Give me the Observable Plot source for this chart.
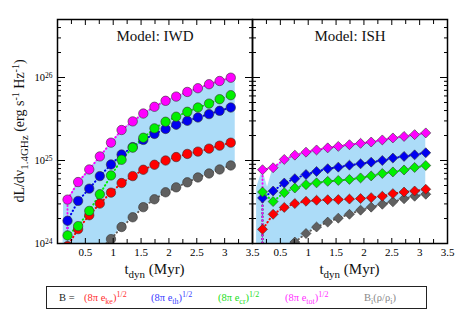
<!DOCTYPE html>
<html><head><meta charset="utf-8">
<script src="https://cdn.jsdelivr.net/npm/d3@7"></script>
<script src="https://cdn.jsdelivr.net/npm/@observablehq/plot@0.6"></script>
<style>
body{margin:0;background:#fff;}
#chart{position:absolute;left:0;top:0;width:464px;height:280px;}
#legend{position:absolute;left:46px;top:286px;width:379px;height:21px;border:1.4px solid #222;font-family:"Liberation Serif",serif;font-size:10.5px;line-height:12px;}
#legend span{position:absolute;top:5px;white-space:nowrap;}
#legend sub,#legend sup{font-size:8px;line-height:0;}
</style></head>
<body>
<div id="chart"></div>
<div id="legend">
  <span style="left:12px;color:#222">B =</span>
  <span style="left:37px;color:#ff3030">(8π e<sub>ke</sub>)<sup>1/2</sup></span>
  <span style="left:104px;color:#4040ff">(8π e<sub>th</sub>)<sup>1/2</sup></span>
  <span style="left:171px;color:#22dd22">(8π e<sub>cr</sub>)<sup>1/2</sup></span>
  <span style="left:238px;color:#ff30ff">(8π e<sub>tot</sub>)<sup>1/2</sup></span>
  <span style="left:317px;color:#888">B<sub>i</sub>(ρ/ρ<sub>i</sub>)</span>
</div>
<script>
// ---- data ----
const models = ["IWD", "ISH"];
const tdyn = [0.18,0.37,0.57,0.76,0.96,1.15,1.35,1.54,1.74,1.94,2.13,2.33,2.52,2.72,2.91,3.11];
const lineStartT = 0.17, lineStartV = 1e22;

const seriesKeys = ["Bi", "ke", "th", "cr", "tot"];
const seriesColors = {Bi: "#606060", ke: "#ff0000", th: "#0000f0", cr: "#00f000", tot: "#ff00ff"};

// Model IWD
const iwdTot = [3.38e24,5.50e24,7.80e24,1.12e25,1.64e25,2.33e25,2.96e25,3.68e25,4.44e25,5.24e25,5.89e25,6.70e25,7.43e25,8.30e25,9.08e25,9.95e25];
const iwdTh  = [1.88e24,3.26e24,4.58e24,6.49e24,8.95e24,1.18e25,1.45e25,1.77e25,2.09e25,2.40e25,2.70e25,3.01e25,3.30e25,3.62e25,3.97e25,4.35e25];
const iwdCr  = [1.25e24,1.62e24,2.47e24,3.92e24,6.61e24,1.02e25,1.43e25,1.88e25,2.44e25,2.93e25,3.37e25,3.86e25,4.35e25,4.85e25,5.48e25,6.12e25];
const iwdKe  = [9.3e23,1.49e24,2.19e24,3.03e24,4.10e24,5.35e24,6.49e24,7.74e24,8.89e24,1.00e25,1.10e25,1.20e25,1.28e25,1.39e25,1.51e25,1.64e25];
const iwdBi  = [3.0e23,4.5e23,6.5e23,8.5e23,1.13e24,1.58e24,2.07e24,2.74e24,3.41e24,4.14e24,4.75e24,5.46e24,6.25e24,6.98e24,7.80e24,8.71e24];

// Model ISH
const ishTot = [7.74e24,8.18e24,1.03e25,1.16e25,1.26e25,1.34e25,1.42e25,1.48e25,1.55e25,1.61e25,1.67e25,1.77e25,1.87e25,1.95e25,2.05e25,2.15e25];
const ishTh  = [3.54e24,4.29e24,5.35e24,6.04e24,6.79e24,7.38e24,7.96e24,8.32e24,8.79e24,9.12e24,9.55e24,1.00e25,1.07e25,1.12e25,1.17e25,1.24e25];
const ishCr  = [4.17e24,3.20e24,4.10e24,4.66e24,5.12e24,5.38e24,5.61e24,5.75e24,5.92e24,6.17e24,6.52e24,6.98e24,7.28e24,7.69e24,8.24e24,8.71e24];
const ishKe  = [1.48e24,2.25e24,2.72e24,3.03e24,3.23e24,3.32e24,3.37e24,3.38e24,3.43e24,3.48e24,3.57e24,3.71e24,3.99e24,4.17e24,4.29e24,4.50e24];
const ishBi  = [4.0e23,6.0e23,8.0e23,1.04e24,1.32e24,1.58e24,1.81e24,2.02e24,2.25e24,2.52e24,2.74e24,2.97e24,3.18e24,3.46e24,3.71e24,3.92e24];

// extra edge points of the shaded envelope
const bandIWDextraT  = [0.08, 0.11, 3.19];
const bandIWDextraLo = [1e23, 1e23, 8.9e24];
const bandIWDextraHi = [1e23, 3.0e24, 1.01e26];
const bandISHextraT  = [0.07, 0.075, 0.27];
const bandISHextraLo = [1e23, 1e23, 5e23];
const bandISHextraHi = [1e23, 4.7e24, 4.75e24];

// ticks
const xMajor = [0.5,1,1.5,2,2.5,3,3.5];
const xMinor = [0.25,0.75,1.25,1.75,2.25,2.75,3.25];
const yMajor = [1e24,1e25,1e26];
const yMinor = [2e24,3e24,4e24,5e24,6e24,7e24,8e24,9e24,2e25,3e25,4e25,5e25,6e25,7e25,8e25,9e25,2e26,3e26,4e26,5e26];
const yExp = {1e24: "24", 1e25: "25", 1e26: "26"};

// ---- tables ----
const seriesData = {
  IWD: {Bi: iwdBi, ke: iwdKe, th: iwdTh, cr: iwdCr, tot: iwdTot},
  ISH: {Bi: ishBi, ke: ishKe, th: ishTh, cr: ishCr, tot: ishTot}
};
const points = [], lines = [];
for (const m of models) for (const s of seriesKeys) {
  lines.push({model: m, series: s, t: lineStartT, v: lineStartV, color: seriesColors[s]});
  seriesData[m][s].forEach((v, i) => {
    const row = {model: m, series: s, t: tdyn[i], v, color: seriesColors[s]};
    points.push(row); lines.push(row);
  });
}
const band = [];
tdyn.forEach((t, i) => band.push({model: "IWD", t, lo: iwdBi[i], hi: iwdTot[i]}));
bandIWDextraT.forEach((t, i) => band.push({model: "IWD", t, lo: bandIWDextraLo[i], hi: bandIWDextraHi[i]}));
tdyn.forEach((t, i) => band.push({model: "ISH", t, lo: ishBi[i], hi: ishTot[i]}));
bandISHextraT.forEach((t, i) => band.push({model: "ISH", t, lo: bandISHextraLo[i], hi: bandISHextraHi[i]}));
band.sort((a, b) => d3.ascending(a.model, b.model) || a.t - b.t);

const titles = [{model: "IWD", label: "Model: IWD"}, {model: "ISH", label: "Model: ISH"}];

const font = "Liberation Serif";
const tickOpts = (anchor, ticks, size) => ({anchor, ticks, tickSize: size, tickFormat: () => "", facetAnchor: null, label: null, stroke: "black", strokeWidth: 1});

const plot = Plot.plot({
  width: 464, height: 280,
  marginTop: 19, marginBottom: 37, marginLeft: 56, marginRight: 17,
  style: {fontFamily: font, fontSize: "11px", background: "white", color: "black"},
  fx: {domain: models, padding: 0, axis: null, label: null},
  x: {domain: [0, 3.5], label: null},
  y: {type: "log", domain: [1e24, 5e26], label: null},
  marks: [
    Plot.areaY(band, {fx: "model", x: "t", y1: "lo", y2: "hi", fill: "#acdcf8", clip: true, curve: "linear"}),
    Plot.line(lines, {fx: "model", x: "t", y: "v", z: d => d.model + d.series, stroke: "color", strokeWidth: 2, strokeDasharray: "0.5,3.2", strokeLinecap: "round", clip: true}),
    Plot.dot(points.filter(d => d.model === "IWD"), {fx: "model", x: "t", y: "v", r: 4.7, fill: "color", stroke: "#333", strokeWidth: 0.6, clip: true}),
    Plot.dot(points.filter(d => d.model === "ISH"), {fx: "model", x: "t", y: "v", r: 4.5, symbol: "diamond2", fill: "color", stroke: "#333", strokeWidth: 0.6, clip: true}),
    Plot.text(titles, {fx: "model", text: "label", frameAnchor: "top", lineAnchor: "top", dy: 11, fontSize: 15, fontFamily: font, fill: "#111"}),
    // inward ticks on all sides
    Plot.axisX(tickOpts("bottom", xMajor, -5)),
    Plot.axisX(tickOpts("bottom", xMinor, -4)),
    Plot.axisX(tickOpts("top", xMajor, -5)),
    Plot.axisX(tickOpts("top", xMinor, -4)),
    Plot.axisY(tickOpts("left", yMajor, -8)),
    Plot.axisY(tickOpts("left", yMinor, -4)),
    Plot.axisY(tickOpts("right", yMajor, -8)),
    Plot.axisY(tickOpts("right", yMinor, -4)),
    // labels
    Plot.axisX({anchor: "bottom", ticks: xMajor, tickSize: 0, tickPadding: 5, facetAnchor: null, label: null, fontSize: 11, tickFormat: d => String(d)}),
    Plot.axisY({anchor: "left", ticks: yMajor, tickSize: 0, tickPadding: 5, facetAnchor: "left", label: null, fontSize: 10.5, tickFormat: d => "10|" + yExp[d]}),
    Plot.frame({stroke: "black", strokeWidth: 1.5})
  ]
});

document.getElementById("chart").appendChild(plot);

const svg = d3.select(plot);
// superscripts for y tick labels
svg.selectAll('g[aria-label="y-axis tick label"] text').each(function () {
  const txt = d3.select(this).text();
  if (!txt.includes("|")) return;
  const [base, exp] = txt.split("|");
  const el = d3.select(this).text("");
  el.append("tspan").text(base);
  el.append("tspan").attr("dy", "-0.45em").attr("font-size", "7.5px").text(exp);
});

// axis titles
const fx = plot.scale("fx");
for (const m of models) {
  const cx = fx.apply(m) + fx.bandwidth / 2;
  const t = svg.append("text").attr("x", cx).attr("y", 274).attr("text-anchor", "middle")
    .attr("font-family", font).attr("font-size", 15).attr("fill", "#111");
  t.append("tspan").text("t");
  t.append("tspan").attr("dy", 4).attr("font-size", 11).text("dyn");
  t.append("tspan").attr("dy", -4).text(" (Myr)");
}
const yl = svg.append("text").attr("transform", "translate(24,131) rotate(-90)").attr("text-anchor", "middle")
  .attr("font-family", font).attr("font-size", 14).attr("fill", "#111");
yl.append("tspan").text("dL/dν");
yl.append("tspan").attr("dy", 4).attr("font-size", 11).text("1.4GHz");
yl.append("tspan").attr("dy", -4).text(" (erg s");
yl.append("tspan").attr("dy", -5).attr("font-size", 10).text("-1");
yl.append("tspan").attr("dy", 5).text(" Hz");
yl.append("tspan").attr("dy", -5).attr("font-size", 10).text("-1");
yl.append("tspan").attr("dy", 5).text(")");
</script>
</body></html>
